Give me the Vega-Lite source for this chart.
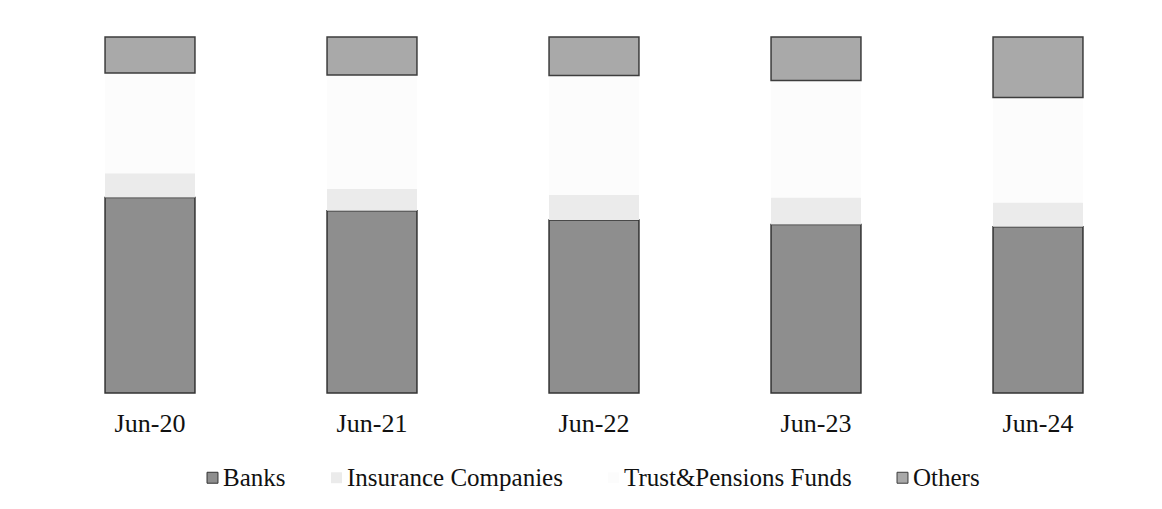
{
  "$schema": "https://vega.github.io/schema/vega-lite/v6.json",
  "autosize": {"type": "none"},
  "width": 1110,
  "height": 356,
  "padding": {"left": 39, "top": 37, "right": 13, "bottom": 116},
  "background": "#ffffff",
  "data": {
    "values": [
      {"period": "Jun-20", "holder": "Banks", "rank": 1, "share": 54.9},
      {"period": "Jun-20", "holder": "Insurance Companies", "rank": 2, "share": 6.8},
      {"period": "Jun-20", "holder": "Trust&Pensions Funds", "rank": 3, "share": 28.2},
      {"period": "Jun-20", "holder": "Others", "rank": 4, "share": 10.1},
      {"period": "Jun-21", "holder": "Banks", "rank": 1, "share": 51.2},
      {"period": "Jun-21", "holder": "Insurance Companies", "rank": 2, "share": 6.2},
      {"period": "Jun-21", "holder": "Trust&Pensions Funds", "rank": 3, "share": 31.9},
      {"period": "Jun-21", "holder": "Others", "rank": 4, "share": 10.7},
      {"period": "Jun-22", "holder": "Banks", "rank": 1, "share": 48.6},
      {"period": "Jun-22", "holder": "Insurance Companies", "rank": 2, "share": 7.1},
      {"period": "Jun-22", "holder": "Trust&Pensions Funds", "rank": 3, "share": 33.5},
      {"period": "Jun-22", "holder": "Others", "rank": 4, "share": 10.8},
      {"period": "Jun-23", "holder": "Banks", "rank": 1, "share": 47.3},
      {"period": "Jun-23", "holder": "Insurance Companies", "rank": 2, "share": 7.6},
      {"period": "Jun-23", "holder": "Trust&Pensions Funds", "rank": 3, "share": 32.9},
      {"period": "Jun-23", "holder": "Others", "rank": 4, "share": 12.2},
      {"period": "Jun-24", "holder": "Banks", "rank": 1, "share": 46.7},
      {"period": "Jun-24", "holder": "Insurance Companies", "rank": 2, "share": 6.8},
      {"period": "Jun-24", "holder": "Trust&Pensions Funds", "rank": 3, "share": 29.5},
      {"period": "Jun-24", "holder": "Others", "rank": 4, "share": 17.0}
    ]
  },
  "mark": {"type": "bar", "strokeWidth": 1.5},
  "encoding": {
    "x": {
      "field": "period",
      "type": "nominal",
      "sort": null,
      "scale": {"paddingInner": 0.595, "paddingOuter": 0.2975},
      "axis": {
        "title": null,
        "domain": false,
        "ticks": false,
        "tickSize": 0,
        "labelAngle": 0,
        "labelFont": "Liberation Serif",
        "labelFontSize": 26,
        "labelColor": "#111111",
        "labelPadding": 17,
        "grid": false
      }
    },
    "y": {
      "field": "share",
      "type": "quantitative",
      "stack": "zero",
      "scale": {"domain": [0, 100], "nice": false},
      "axis": null
    },
    "order": {"field": "rank", "type": "quantitative"},
    "color": {
      "field": "holder",
      "type": "nominal",
      "scale": {
        "domain": ["Banks", "Insurance Companies", "Trust&Pensions Funds", "Others"],
        "range": ["#8e8e8e", "#ebebeb", "#fcfcfc", "#a9a9a9"]
      },
      "legend": {
        "title": null,
        "orient": "none",
        "direction": "horizontal",
        "legendX": 161,
        "legendY": 428,
        "padding": 0,
        "symbolType": "square",
        "symbolSize": 120,
        "symbolStrokeWidth": 1,
        "symbolStrokeColor": "#555555",
        "labelFont": "Liberation Serif",
        "labelFontSize": 25,
        "labelColor": "#111111",
        "labelOffset": -2,
        "columnPadding": 38,
        "labelLimit": 400
      }
    },
    "stroke": {
      "field": "holder",
      "type": "nominal",
      "scale": {
        "domain": ["Banks", "Insurance Companies", "Trust&Pensions Funds", "Others"],
        "range": ["#333333", "transparent", "transparent", "#3d3d3d"]
      },
      "legend": null
    }
  },
  "config": {
    "view": {"stroke": null},
    "font": "Liberation Serif"
  }
}
